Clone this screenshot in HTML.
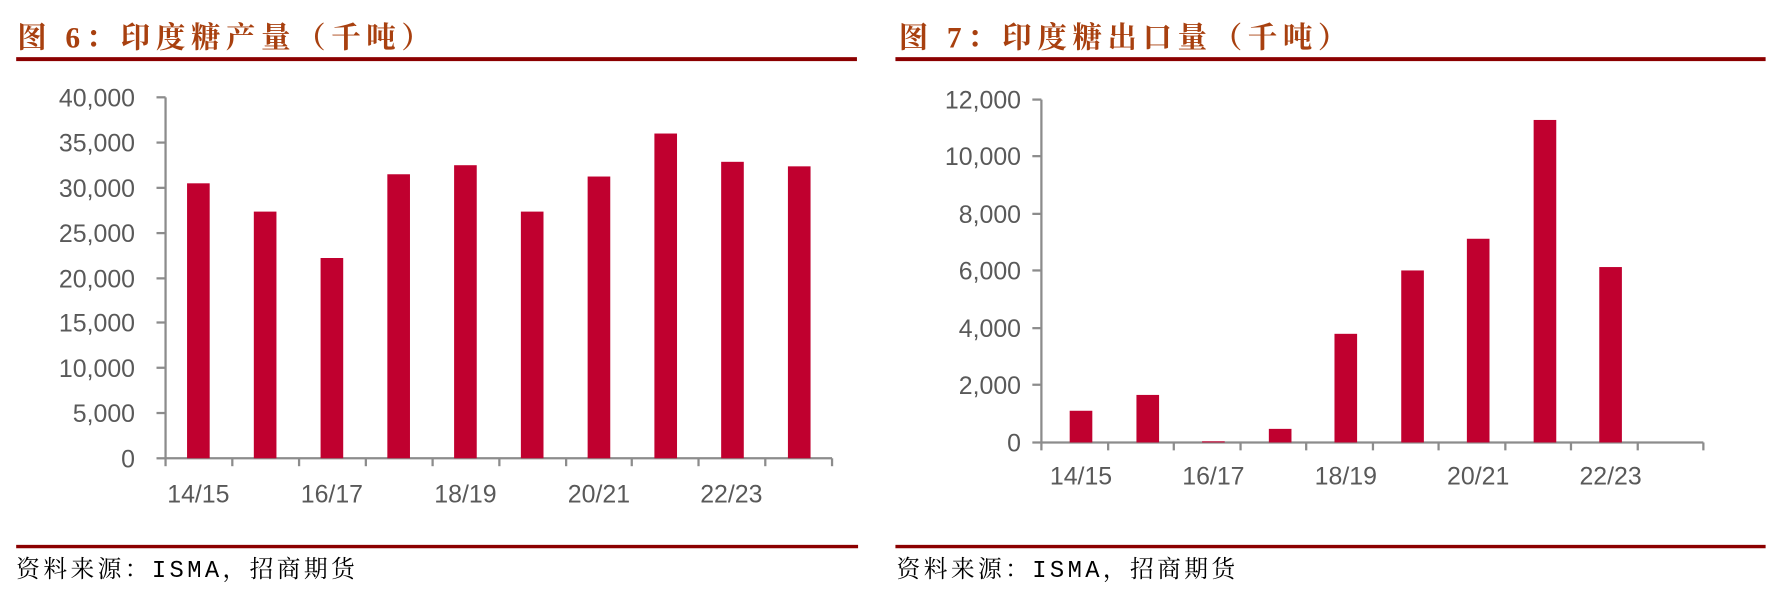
<!DOCTYPE html>
<html><head><meta charset="utf-8"><style>
body{margin:0;background:#fff;width:1775px;height:602px;overflow:hidden}
svg{display:block}
svg text{font-family:"Liberation Sans",sans-serif}
.t{font-family:"Liberation Serif","Noto Serif CJK SC",serif;font-weight:bold;fill:#A8400F;font-size:26px;letter-spacing:5px}
.f{font-family:"Liberation Mono","Noto Serif CJK SC",serif;font-size:21px;fill:#000;letter-spacing:3px}
.y{font-size:22px;fill:#595959;text-anchor:end}
.x{font-size:22px;fill:#595959;text-anchor:middle}
</style></head><body>
<svg width="1775" height="602" viewBox="0 0 1568 532" xmlns="http://www.w3.org/2000/svg">
<text class="t" x="15" y="42">图 6：印度糖产量（千吨）</text>
<text class="t" x="794" y="42">图 7：印度糖出口量（千吨）</text>
<rect x="14" y="50.5" width="743" height="3.5" fill="#8B0000"/>
<rect x="791" y="50.5" width="769" height="3.5" fill="#8B0000"/>
<rect x="14" y="481.5" width="744" height="3" fill="#8B0000"/>
<rect x="791" y="481.5" width="769" height="3" fill="#8B0000"/>
<text class="f" x="14" y="510">资料来源：ISMA，招商期货</text>
<text class="f" x="792" y="510">资料来源：ISMA，招商期货</text>
<g id="L">
<line x1="146" y1="86" x2="146" y2="405" stroke="#8c8c8c" stroke-width="2"/>
<line x1="146" y1="405" x2="735" y2="405" stroke="#8c8c8c" stroke-width="2"/>
<g stroke="#8c8c8c" stroke-width="2">
<line x1="138" y1="86" x2="146" y2="86"/><line x1="138" y1="126" x2="146" y2="126"/><line x1="138" y1="166" x2="146" y2="166"/><line x1="138" y1="206" x2="146" y2="206"/><line x1="138" y1="246" x2="146" y2="246"/><line x1="138" y1="285" x2="146" y2="285"/><line x1="138" y1="325" x2="146" y2="325"/><line x1="138" y1="365" x2="146" y2="365"/><line x1="138" y1="405" x2="146" y2="405"/>
<line x1="146" y1="405" x2="146" y2="412"/><line x1="205" y1="405" x2="205" y2="412"/><line x1="264" y1="405" x2="264" y2="412"/><line x1="323" y1="405" x2="323" y2="412"/><line x1="382" y1="405" x2="382" y2="412"/><line x1="441" y1="405" x2="441" y2="412"/><line x1="500" y1="405" x2="500" y2="412"/><line x1="558" y1="405" x2="558" y2="412"/><line x1="617" y1="405" x2="617" y2="412"/><line x1="676" y1="405" x2="676" y2="412"/><line x1="735" y1="405" x2="735" y2="412"/>
</g>
<text x="119" y="94" class="y">40,000</text><text x="119" y="134" class="y">35,000</text><text x="119" y="174" class="y">30,000</text><text x="119" y="214" class="y">25,000</text><text x="119" y="254" class="y">20,000</text><text x="119" y="293" class="y">15,000</text><text x="119" y="333" class="y">10,000</text><text x="119" y="373" class="y">5,000</text><text x="119" y="413" class="y">0</text>
<text class="x" x="175" y="444">14/15</text><text class="x" x="293" y="444">16/17</text><text class="x" x="411" y="444">18/19</text><text class="x" x="529" y="444">20/21</text><text class="x" x="646" y="444">22/23</text>
<g fill="#C0002F">
<rect x="165" y="162" width="20" height="243"/><rect x="224" y="187" width="20" height="218"/><rect x="283" y="228" width="20" height="177"/><rect x="342" y="154" width="20" height="251"/><rect x="401" y="146" width="20" height="259"/><rect x="460" y="187" width="20" height="218"/><rect x="519" y="156" width="20" height="249"/><rect x="578" y="118" width="20" height="287"/><rect x="637" y="143" width="20" height="262"/><rect x="696" y="147" width="20" height="258"/>
</g></g>
<g id="R">
<line x1="920" y1="88" x2="920" y2="391" stroke="#8c8c8c" stroke-width="2"/>
<line x1="912" y1="391" x2="1505" y2="391" stroke="#8c8c8c" stroke-width="2"/>
<g stroke="#8c8c8c" stroke-width="2">
<line x1="912" y1="88" x2="920" y2="88"/><line x1="912" y1="138" x2="920" y2="138"/><line x1="912" y1="189" x2="920" y2="189"/><line x1="912" y1="239" x2="920" y2="239"/><line x1="912" y1="290" x2="920" y2="290"/><line x1="912" y1="340" x2="920" y2="340"/>
<line x1="920" y1="391" x2="920" y2="398"/><line x1="979" y1="391" x2="979" y2="398"/><line x1="1037" y1="391" x2="1037" y2="398"/><line x1="1096" y1="391" x2="1096" y2="398"/><line x1="1154" y1="391" x2="1154" y2="398"/><line x1="1213" y1="391" x2="1213" y2="398"/><line x1="1271" y1="391" x2="1271" y2="398"/><line x1="1330" y1="391" x2="1330" y2="398"/><line x1="1388" y1="391" x2="1388" y2="398"/><line x1="1447" y1="391" x2="1447" y2="398"/><line x1="1505" y1="391" x2="1505" y2="398"/>
</g>
<text x="902" y="96" class="y">12,000</text><text x="902" y="146" class="y">10,000</text><text x="902" y="197" class="y">8,000</text><text x="902" y="247" class="y">6,000</text><text x="902" y="298" class="y">4,000</text><text x="902" y="348" class="y">2,000</text><text x="902" y="399" class="y">0</text>
<text class="x" x="955" y="428">14/15</text><text class="x" x="1072" y="428">16/17</text><text class="x" x="1189" y="428">18/19</text><text class="x" x="1306" y="428">20/21</text><text class="x" x="1423" y="428">22/23</text>
<g fill="#C0002F">
<rect x="945" y="363" width="20" height="28"/><rect x="1004" y="349" width="20" height="42"/><rect x="1062" y="390" width="20" height="1"/><rect x="1121" y="379" width="20" height="12"/><rect x="1179" y="295" width="20" height="96"/><rect x="1238" y="239" width="20" height="152"/><rect x="1296" y="211" width="20" height="180"/><rect x="1355" y="106" width="20" height="285"/><rect x="1413" y="236" width="20" height="155"/>
</g></g>
</svg>
</body></html>
